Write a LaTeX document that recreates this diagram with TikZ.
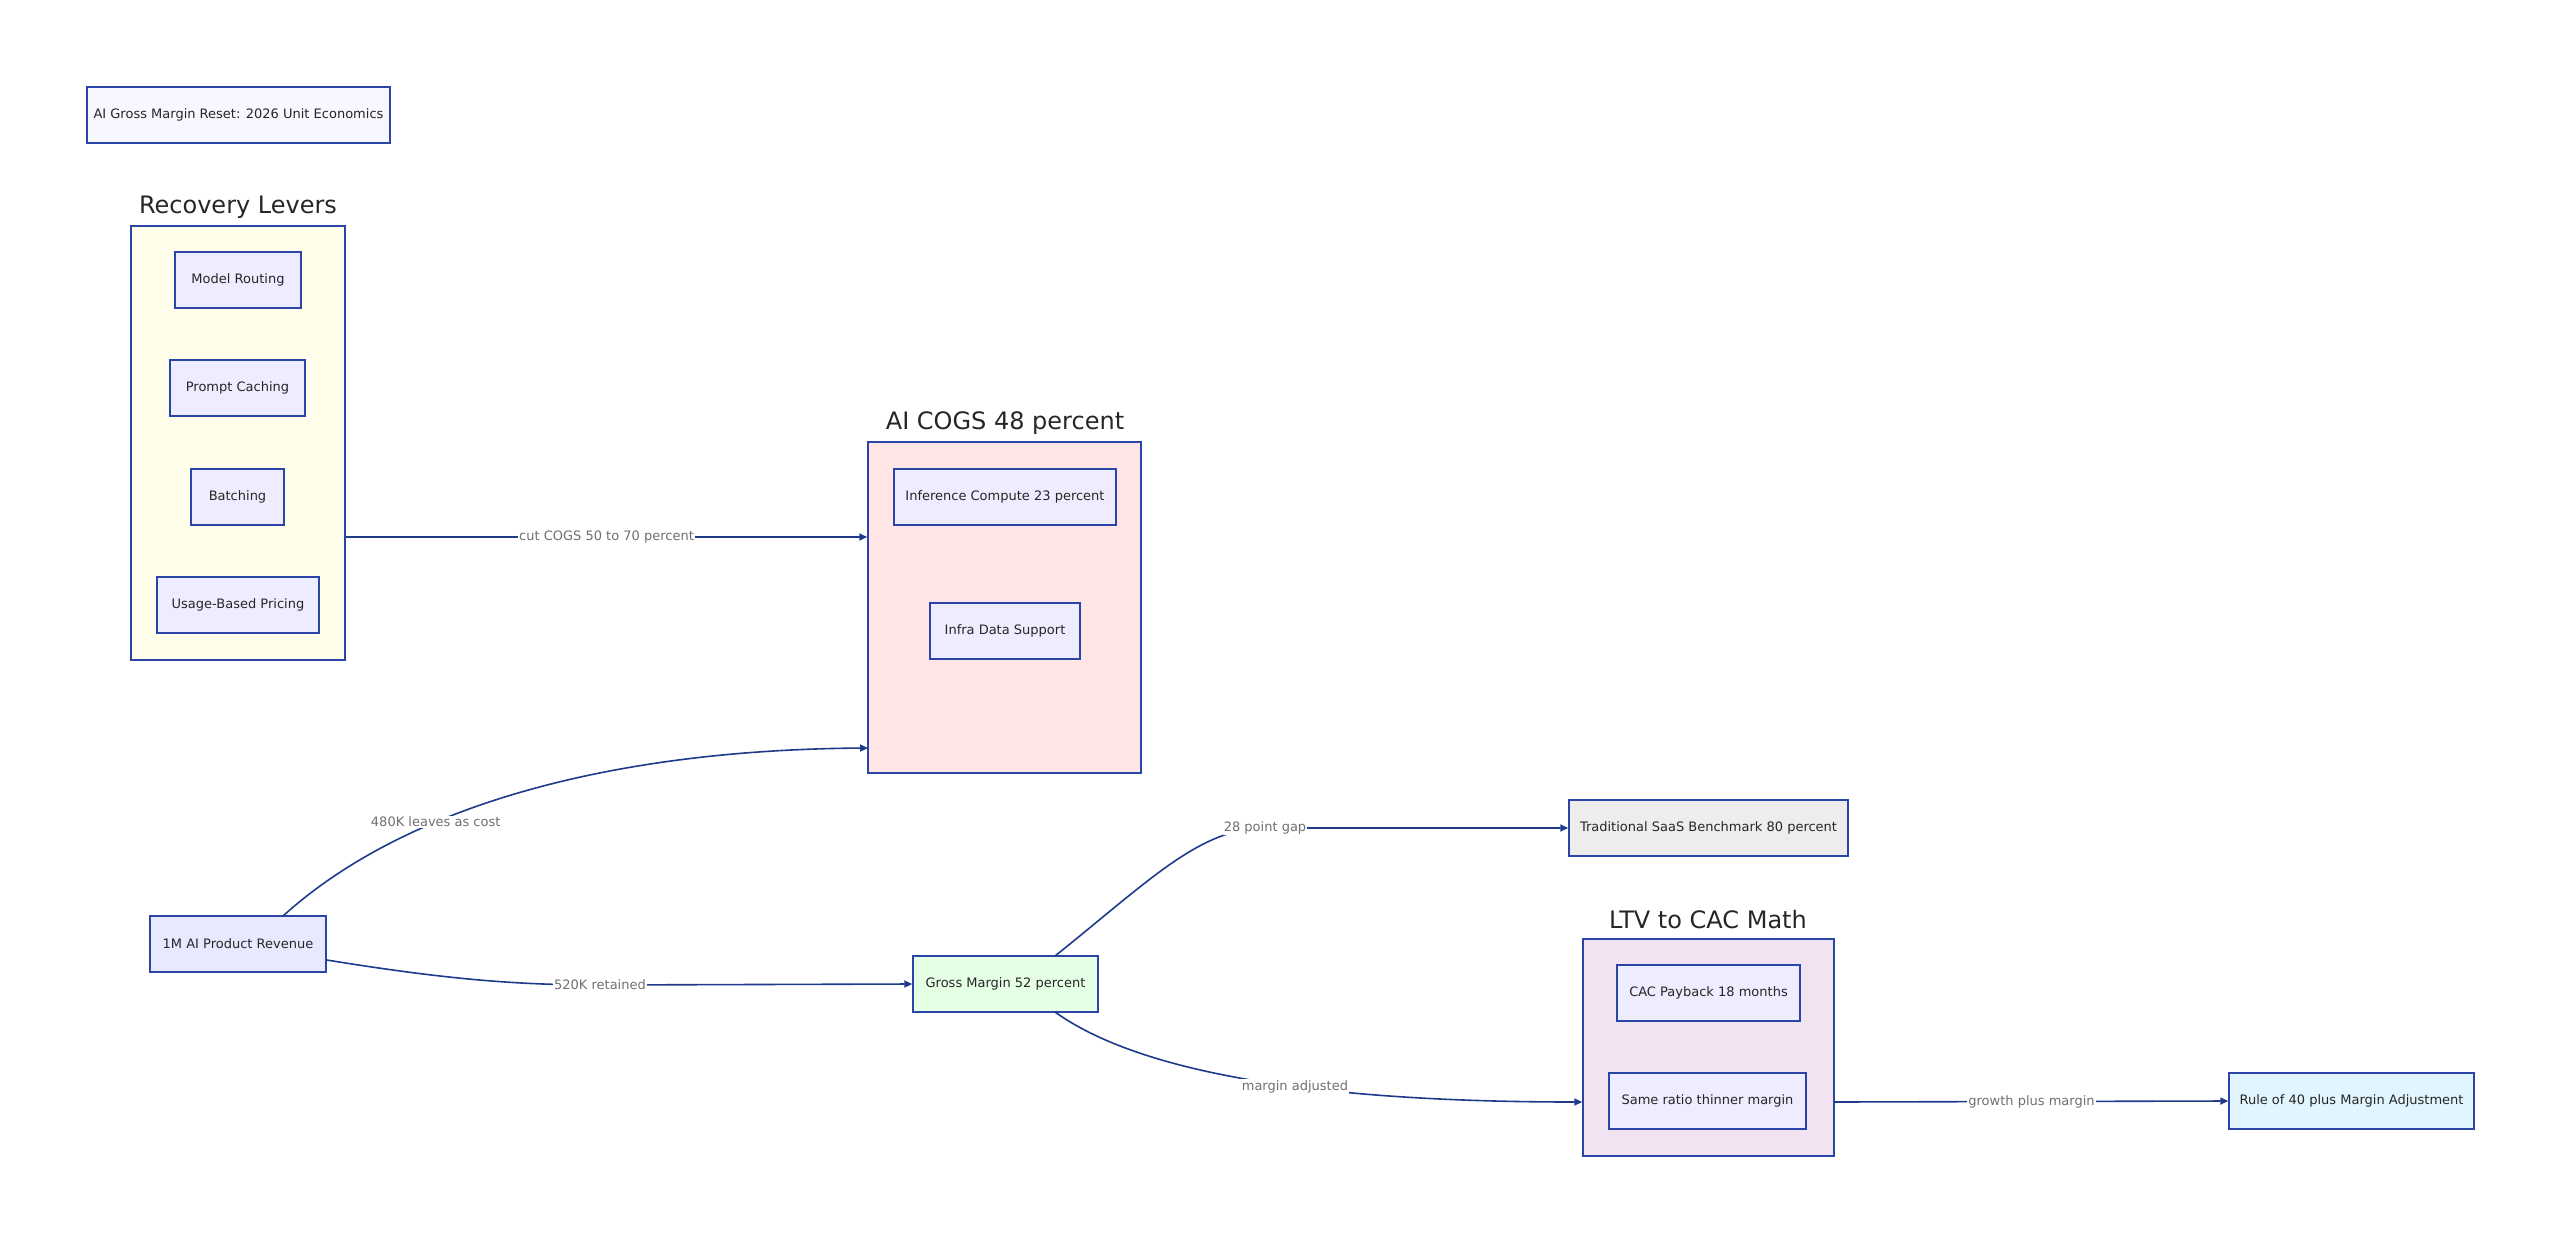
\documentclass[tikz,border=0pt]{standalone}
\usepackage{fontspec}
\setmainfont{DejaVu Sans}
\usetikzlibrary{arrows.meta}
\definecolor{edge}{HTML}{1E3A8A}
\definecolor{bord}{HTML}{2B44A8}
\definecolor{lab}{HTML}{707070}
\begin{document}
\begin{tikzpicture}[x=1pt,y=-1pt,
 box/.style={draw=bord,line width=1.5pt,fill=#1,inner sep=0pt,font=\fontsize{13}{15}\selectfont,text=black!85},
 clus/.style={draw=bord,line width=1.5pt,fill=#1},
 ctitle/.style={font=\fontsize{24}{28}\selectfont,text=black!85},
 arr/.style={draw=edge,line width=1.6pt,-{Triangle[length=8pt,width=7pt]}},
 el/.style={font=\fontsize{13}{15}\selectfont,text=lab,fill=white,inner sep=1pt,opacity=1}]
\useasboundingbox (0,0) rectangle (2560,1242);
\def\bx#1#2#3#4#5#6#7{\node[box=#6,minimum width=#3-#1,minimum height=#4-#2] (#5) at ({(#1+#3)/2},{(#2+#4)/2}) {#7};}
\bx{87}{87}{390}{143}{title}{blue!3}{AI Gross Margin Reset: 2026 Unit Economics}
% clusters
\node[clus=orange!10!yellow!8,minimum width=214,minimum height=434,inner sep=0pt] (rl) at (238,443) {};
\node[ctitle] (rlt) at (238,207) {Recovery Levers};
\node[clus=red!10,minimum width=273,minimum height=331,inner sep=0pt] (cogs) at (1004.5,607.5) {};
\node[ctitle] (cogst) at (1005,423) {AI COGS 48 percent};
\node[clus=violet!11,minimum width=251,minimum height=217,inner sep=0pt] (ltv) at (1708.5,1047.5) {};
\node[ctitle] (ltvt) at (1708,920) {LTV to CAC Math};
\bx{175}{252}{301}{308}{mr}{blue!7}{Model Routing}
\bx{170}{360}{305}{416}{pc}{blue!7}{Prompt Caching}
\bx{191}{469}{284}{525}{ba}{blue!7}{Batching}
\bx{157}{577}{319}{633}{ub}{blue!7}{Usage-Based Pricing}
\bx{894}{469}{1116}{525}{ic}{blue!7}{Inference Compute 23 percent}
\bx{930}{603}{1080}{659}{ids}{blue!7}{Infra Data Support}
\bx{1569}{800}{1848}{856}{trad}{black!7}{Traditional SaaS Benchmark 80 percent}
\bx{1617}{965}{1800}{1021}{cac}{blue!7}{CAC Payback 18 months}
\bx{1609}{1073}{1806}{1129}{same}{blue!7}{Same ratio thinner margin}
\bx{2229}{1073}{2474}{1129}{rule}{cyan!12}{Rule of 40 plus Margin Adjustment}
\bx{150}{916}{326}{972}{rev}{blue!9}{1M AI Product Revenue}
\bx{913}{956}{1098}{1012}{gm}{green!10}{Gross Margin 52 percent}
% edges
\draw[arr] (rl.east |- 0,537) -- node[el]{cut COGS 50 to 70 percent} (cogs.west |- 0,537);
\coordinate (c1) at (868,748);
\draw[arr] (283,916) .. controls (400,810) and (600,750) .. (c1) node[el,pos=0.35]{480K leaves as cost};
\coordinate (gin) at (gm.west);
\draw[arr] (rev.east |- 0,960) .. controls (450,980) and (520,985) .. (600,985) node[el,pos=1]{520K retained} -- (gin);
\draw[arr] (1055,956) .. controls (1150,880) and (1200,828) .. (1265,828) node[el,pos=1]{28 point gap} -- (trad.west);
\draw[arr] (1055,1012) .. controls (1150,1080) and (1350,1102) .. (ltv.west |- 0,1102) node[el,pos=0.55]{margin adjusted};
\draw[arr] (ltv.east |- 0,1102) -- node[el]{growth plus margin} (rule.west);
\end{tikzpicture}
\end{document}
